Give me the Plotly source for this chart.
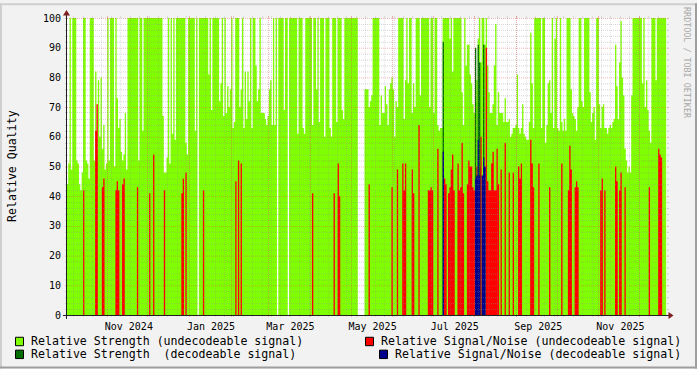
import math
import pandas as pd
import plotly.graph_objects as go

# ---------------- data (one value per day, day 0 = START) ----------------
START = "2024-10-01"
N_DAYS = 446
X_RANGE = ["2024-10-02 02:40", "2025-12-21 14:20"]

# Relative Strength (undecodeable signal): full scale (100) except these days
STR_UNDEC_DAY = [1, 2, 4, 8, 9, 10, 11, 12, 15, 16, 17, 21, 22, 23, 24, 25, 26, 27, 28, 29, 30, 32, 36,
                 38, 39, 40, 41, 42, 43, 44, 45, 54, 57,
                 72, 73, 74, 75, 77, 79, 81, 89, 90, 96, 106, 108, 114, 115, 117, 119, 120, 121, 122,
                 124, 125, 129, 130, 132, 133, 134, 135, 136, 138, 141, 142, 143, 145, 146, 147, 148,
                 149, 150, 151, 152, 153, 155, 162, 172, 176, 177, 183, 186, 188, 192, 196, 197, 201,
                 205, 206,
                 222, 223, 224, 225, 226, 227, 233, 234, 235, 236, 237, 238, 239, 240, 241, 242, 243,
                 244, 245, 246, 251, 252, 254, 257, 258, 259, 263, 270, 273, 276, 277, 278, 279, 285,
                 287, 294, 295, 297, 298, 299, 300, 301, 302, 303, 304, 305, 306, 308, 311, 313, 314,
                 315, 316, 317, 318, 319, 320, 321, 322, 323, 324, 325, 326, 327, 328, 329, 330, 331,
                 332, 333, 334, 335, 336, 337, 338, 339, 340, 341, 342, 343, 344, 345, 346, 347, 353,
                 356, 357, 358, 359, 360, 362, 363, 365, 366, 368, 369, 370, 371, 375, 376, 377, 378,
                 379, 380, 383, 384, 389, 390, 391, 392, 393, 396, 397, 398, 399, 400, 401, 402, 403,
                 404, 405, 406, 407, 408, 409, 410, 411, 412, 413, 414, 415, 416, 417, 418, 419, 420,
                 428, 430, 431, 432, 433, 434, 438]
STR_UNDEC_VAL = [44, 51, 49, 52, 51, 44, 42, 48, 52, 51, 46, 52, 82, 54, 79, 60, 80, 56, 64, 49, 51, 52, 50,
                 73, 63, 66, 55, 52, 54, 68, 49, 52, 62,
                 67, 48, 48, 53, 51, 61, 59, 58, 54, 62, 81, 69, 72, 78, 67, 68, 77, 70, 76,
                 63, 65, 70, 76, 63, 82, 66, 82, 72, 63, 84, 72, 76, 68, 68, 68, 66,
                 64, 67, 76, 79, 64, 64, 69, 61, 63, 61, 64, 76, 65, 60, 63, 60, 65,
                 69, 66,
                 76, 76, 76, 70, 72, 74, 64, 74, 68, 68, 77, 71, 64, 76, 78, 80, 76,
                 60, 72, 70, 66, 79, 78, 68, 78, 70, 74, 70, 68, 64, 62, 63, 63, 93,
                 82, 75, 64, 84, 91, 91, 81, 78, 71, 68, 72, 79, 93, 85, 91, 84, 75,
                 68, 68, 71, 84, 98, 64, 75, 68, 68, 68, 65, 73, 65, 65, 66, 60, 61,
                 63, 63, 64, 81, 63, 61, 63, 71, 61, 60, 59, 59, 65, 95, 78, 63, 63,
                 58, 64, 78, 79, 68, 63, 93, 63, 62, 65, 62, 66, 62, 76, 68, 67, 66,
                 62, 70, 72, 70, 75, 65, 68, 70, 59, 71, 63, 70, 71, 63, 63, 61, 63,
                 64, 63, 65, 66, 91, 77, 66, 85, 99, 80, 74, 56, 52, 48, 50, 48, 74,
                 78, 70, 79, 69, 62, 58, 79]
NO_DATA_DAY = [98, 157, 165, 217, 218, 219, 220, 221]

# Relative Signal/Noise (undecodeable signal)
SN_UNDEC_DAY = [13, 22, 23, 27, 28, 37, 38, 39, 42, 43, 53, 62, 65, 73, 86, 87, 89, 102, 126, 128, 130,
                183, 199, 202, 203, 225, 242, 246, 250, 251, 252, 257, 258, 262, 269, 270, 271, 272,
                276, 281, 282, 284, 285, 286, 287, 288, 291, 292, 293, 294, 295, 298, 299, 300, 301,
                302, 303, 305, 307, 308, 312, 313, 314, 315, 316, 317, 318, 319, 320, 321, 323, 326,
                329, 332, 336, 337, 338, 345, 346, 347, 351, 359, 368, 373, 374, 375, 378, 379, 380,
                397, 398, 400, 408, 409, 411, 412, 415, 433, 440, 441, 442]
SN_UNDEC_VAL = [42, 62, 71, 43, 46, 42, 45, 42, 44, 46, 43, 41, 54, 42, 41, 46, 48, 42, 45, 52, 51,
                41, 41, 51, 40, 44, 43, 49, 51, 42, 51, 49, 41, 64, 42, 42, 43, 42,
                56, 46, 44, 41, 43, 49, 54, 42, 51, 42, 43, 58, 41, 44, 52, 50, 50,
                43, 42, 50, 50, 60, 90, 45, 42, 42, 51, 55, 42, 42, 56, 44, 49, 58,
                48, 48, 50, 46, 51, 59, 51, 43, 51, 43, 51, 42, 57, 49, 43, 45, 43,
                42, 46, 42, 50, 45, 42, 48, 43, 43, 56, 54, 53]

# Relative Strength (decodeable signal)
STR_DEC_DAY = [280, 304, 306, 307, 310]
STR_DEC_VAL = [92, 90, 91, 85, 91]

# Relative Signal/Noise (decodeable signal)
SN_DEC_DAY = [280, 304, 305, 306, 307, 309, 310, 311]
SN_DEC_VAL = [55, 46, 47, 59, 47, 47, 53, 50]

Y_TICKS = list(range(0, 101, 10))
X_TICK_DATES = ["2024-11-17", "2025-01-17", "2025-03-17", "2025-05-17",
                "2025-07-17", "2025-09-17", "2025-11-17"]
X_TICK_TEXT = ["Nov 2024", "Jan 2025", "Mar 2025", "May 2025", "Jul 2025", "Sep 2025", "Nov 2025"]

SERIES_NAMES = ["Relative Strength (undecodeable signal)",
                "Relative Signal/Noise (undecodeable signal)",
                "Relative Strength\u00a0 (decodeable signal)",
                "Relative Signal/Noise (decodeable signal)"]
COLORS = ["#80FF00", "#FF0000", "#006E00", "#00008C"]

# ---------------- build ----------------
dates = pd.date_range(START, periods=N_DAYS, freq="D")
xs = list(dates) + [dates[-1] + pd.Timedelta(days=1)]


def series(base, days, vals):
    y = [base] * N_DAYS
    for d, v in zip(days, vals):
        y[d] = v
    return y


green = series(100, STR_UNDEC_DAY, STR_UNDEC_VAL)
for d in NO_DATA_DAY:
    green[d] = 0
red = series(0, SN_UNDEC_DAY, SN_UNDEC_VAL)
dgreen = series(0, STR_DEC_DAY, STR_DEC_VAL)
blue = series(0, SN_DEC_DAY, SN_DEC_VAL)

fig = go.Figure()
for ys, col in zip([green, red, dgreen, blue], COLORS):
    fig.add_trace(go.Scatter(x=xs, y=ys + [ys[-1]], mode="lines",
                             line=dict(width=0, shape="hv", color=col),
                             fill="tozeroy", fillcolor=col,
                             hoverinfo="skip", showlegend=False))

W, H = 697, 369
PX_L, PX_R, PY_T, PY_B = 67, 667, 15, 315
t0, t1 = pd.Timestamp(X_RANGE[0]), pd.Timestamp(X_RANGE[1])


def xp(px):
    return (px - PX_L) / (PX_R - PX_L)


def yp(py):
    return (PY_B - py) / (PY_B - PY_T)


def date_px(d):
    return PX_L + (pd.Timestamp(d) - t0) / (t1 - t0) * (PX_R - PX_L)


def val_py(v):
    return PY_B - v / 100 * (PY_B - PY_T)


FONT = "DejaVu Sans Mono"
GRID_H = "rgba(143,143,143,0.38)"
GRID_V = "rgba(143,143,143,0.26)"
MGRID = "rgba(222,79,79,0.42)"
shapes = []


def path_shape(path, color, dash=None, width=1):
    ln = dict(color=color, width=width)
    if dash:
        ln["dash"] = dash
    return dict(type="path", xref="paper", yref="paper", path=path, line=ln, layer="above")


def hlines(vals, color):
    dots, ticks = [], []
    for v in vals:
        py = math.floor(val_py(v)) + 0.5
        dots.append(f"M{xp(PX_L)},{yp(py)}L{xp(PX_R)},{yp(py)}")
        ticks.append(f"M{xp(PX_L - 2)},{yp(py)}L{xp(PX_L)},{yp(py)}")
        ticks.append(f"M{xp(PX_R)},{yp(py)}L{xp(PX_R + 2)},{yp(py)}")
    shapes.append(path_shape("".join(dots), color, "1px,1px"))
    shapes.append(path_shape("".join(ticks), color))


def vlines(ds, color):
    dots, ticks = [], []
    for d in ds:
        px = math.floor(date_px(d)) + 0.5
        dots.append(f"M{xp(px)},{yp(PY_T)}L{xp(px)},{yp(PY_B)}")
        ticks.append(f"M{xp(px)},{yp(PY_T - 2)}L{xp(px)},{yp(PY_T)}")
        ticks.append(f"M{xp(px)},{yp(PY_B)}L{xp(px)},{yp(PY_B + 2)}")
    shapes.append(path_shape("".join(dots), color, "1px,1px"))
    shapes.append(path_shape("".join(ticks), color))


hlines([v for v in range(2, 100, 2) if v % 10], GRID_H)
vlines(pd.date_range("2024-10-07", X_RANGE[1], freq="7D"), GRID_V)
hlines(range(10, 101, 10), MGRID)
vlines(pd.date_range("2024-11-01", "2025-12-01", freq="MS"), MGRID)

AXIS = "#1F1F1F"
ARROW = "#801F1F"
shapes.append(path_shape(f"M{xp(PX_L - 4)},{yp(315.5)}L{xp(PX_R + 4)},{yp(315.5)}", AXIS))
shapes.append(path_shape(f"M{xp(66.5)},{yp(319)}L{xp(66.5)},{yp(11)}", AXIS))
shapes.append(dict(type="path", xref="paper", yref="paper", layer="above",
                   path=f"M{xp(668.5)},{yp(312)}L{xp(668.5)},{yp(319)}L{xp(673.5)},{yp(315.5)}Z",
                   fillcolor=ARROW, line=dict(width=0)))
shapes.append(dict(type="path", xref="paper", yref="paper", layer="above",
                   path=f"M{xp(63)},{yp(12.5)}L{xp(70)},{yp(12.5)}L{xp(66.5)},{yp(7)}Z",
                   fillcolor=ARROW, line=dict(width=0)))

# frame shading
for (x0, y0, x1, y1, c) in [(0, 0, W, 2, "#CFCFCF"), (0, 0, 2, H, "#CFCFCF"),
                            (0, H - 2, W, H, "#9E9E9E"), (W - 2, 0, W, H, "#9E9E9E")]:
    shapes.append(dict(type="rect", xref="paper", yref="paper", layer="above",
                       x0=xp(x0), x1=xp(x1), y0=yp(y1), y1=yp(y0),
                       fillcolor=c, line=dict(width=0)))

annotations = []
# legend
LEG = [(15.5, 30, 341.5), (365.5, 380, 341.5), (15.5, 30, 354.5), (379.5, 394, 354.5)]
for (bx, tx, ty), k in zip(LEG, [0, 1, 2, 3]):
    shapes.append(dict(type="rect", xref="paper", yref="paper", layer="above",
                       x0=xp(bx), x1=xp(bx + 8), y0=yp(ty + 4.5), y1=yp(ty - 4),
                       fillcolor=COLORS[k], line=dict(color="black", width=1)))
    annotations.append(dict(x=xp(tx), y=yp(ty), xref="paper", yref="paper",
                            text=SERIES_NAMES[k], showarrow=False, xanchor="left",
                            yanchor="middle", borderpad=0,
                            font=dict(family=FONT, size=11.6, color="black")))

annotations.append(dict(x=xp(11.5), y=yp(165), xref="paper", yref="paper",
                        text="Relative Quality", showarrow=False, textangle=-90,
                        xanchor="center", yanchor="middle",
                        font=dict(family=FONT, size=11.6, color="black")))
annotations.append(dict(x=xp(687.5), y=yp(60), xref="paper", yref="paper",
                        text="RRDTOOL / TOBI OETIKER", showarrow=False, textangle=90,
                        xanchor="center", yanchor="middle",
                        font=dict(family=FONT, size=8.4, color="#A8A8A8")))

fig.update_layout(
    width=W, height=H, autosize=False,
    margin=dict(l=PX_L, r=W - PX_R, t=PY_T, b=H - PY_B),
    paper_bgcolor="#F2F2F2", plot_bgcolor="#FFFFFF",
    shapes=shapes, annotations=annotations, showlegend=False,
    xaxis=dict(type="date", range=X_RANGE, showgrid=False, zeroline=False, showline=False,
               ticks="", tickvals=X_TICK_DATES, ticktext=X_TICK_TEXT, ticklabelstandoff=4,
               tickfont=dict(family=FONT, size=10, color="black"), fixedrange=True),
    yaxis=dict(range=[0, 100], showgrid=False, zeroline=False, showline=False,
               ticks="", tickvals=Y_TICKS, ticktext=[str(v) for v in Y_TICKS],
               ticklabelstandoff=5,
               tickfont=dict(family=FONT, size=10, color="black"), fixedrange=True),
)

fig.write_html("out.html")
